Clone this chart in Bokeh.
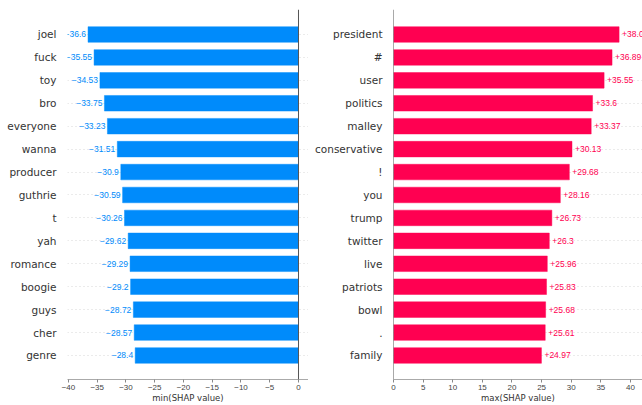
from bokeh.plotting import figure
from bokeh.layouts import row
from bokeh.models import Range1d, FixedTicker, Span, ColumnDataSource
from bokeh.core.properties import value
from bokeh.embed import file_html
from bokeh.resources import INLINE

# ---- data ----
neg_words = ["joel", "fuck", "toy", "bro", "everyone", "wanna", "producer", "guthrie",
             "t", "yah", "romance", "boogie", "guys", "cher", "genre"]
neg_values = [-36.6, -35.55, -34.53, -33.75, -33.23, -31.51, -30.9, -30.59,
              -30.26, -29.62, -29.29, -29.2, -28.72, -28.57, -28.4]
pos_words = ["president", "#", "user", "politics", "malley", "conservative", "!", "you",
             "trump", "twitter", "live", "patriots", "bowl", ".", "family"]
pos_values = [38.08, 36.89, 35.55, 33.6, 33.37, 30.13, 29.68, 28.16,
              26.73, 26.3, 25.96, 25.83, 25.68, 25.61, 24.97]
neg_ticks = [-40, -35, -30, -25, -20, -15, -10, -5, 0]
pos_ticks = [0, 5, 10, 15, 20, 25, 30, 35, 40]

BLUE = "#008bfb"
RED = "#ff0051"
LABEL_FONT = "DejaVu Sans"
VAL_FONT = "Liberation Sans"

H = 405
Y_RANGE = (-1.047, 15.09)


def make_fig(words, values, width, xr, border_left, border_right, ticks, xlabel, color, neg):
    n = len(words)
    pos = [n - 1 - i for i in range(n)]
    if neg:
        texts = ["\u2212" + f"{abs(v):g}" for v in values]
    else:
        texts = ["+" + f"{v:g}" for v in values]
    src = ColumnDataSource(dict(y=pos, v=values, zero=[0] * n, t=texts))

    p = figure(width=width, height=H, output_backend="svg", toolbar_location=None,
               x_range=Range1d(*xr), y_range=Range1d(*Y_RANGE),
               min_border_left=border_left, min_border_right=border_right,
               min_border_top=9, min_border_bottom=26)
    p.outline_line_color = None
    p.background_fill_color = "white"
    p.xgrid.grid_line_color = None
    p.ygrid.ticker = FixedTicker(ticks=pos)
    p.ygrid.grid_line_color = "#cccccc"
    p.ygrid.grid_line_dash = "1 3"
    p.ygrid.grid_line_width = 0.8

    p.hbar(y="y", left="v", right="zero", height=0.68, source=src,
           fill_color=color, line_color=color, line_alpha=0.45, line_width=1)

    if neg:
        p.text(x="v", y="y", text="t", source=src, x_offset=-2,
               text_align="right", text_baseline="middle",
               text_font=value(VAL_FONT), text_font_size="8.5px", text_color=color)
    else:
        p.text(x="v", y="y", text="t", source=src, x_offset=3,
               text_align="left", text_baseline="middle",
               text_font=value(VAL_FONT), text_font_size="8.5px", text_color=color)

    p.add_layout(Span(location=0, dimension="height", line_color="#555555", line_width=1))

    # y axis
    ya = p.yaxis[0]
    ya.ticker = FixedTicker(ticks=pos)
    ya.major_label_overrides = {pv: w for pv, w in zip(pos, words)}
    ya.axis_line_color = None
    ya.major_tick_line_color = None
    ya.minor_tick_line_color = None
    ya.major_label_standoff = 5
    ya.major_label_text_font = LABEL_FONT
    ya.major_label_text_font_size = "10.5px"
    ya.major_label_text_color = "#333333"

    # x axis
    xa = p.xaxis[0]
    xa.ticker = FixedTicker(ticks=ticks)
    xa.major_label_overrides = {t: (("\u2212" + str(abs(t))) if t < 0 else str(t)) for t in ticks}
    xa.axis_line_color = "#aaaaaa"
    xa.major_tick_line_color = "#888888"
    xa.major_tick_out = 3
    xa.major_tick_in = 0
    xa.minor_tick_line_color = None
    xa.major_label_standoff = 2
    xa.major_label_text_font = VAL_FONT
    xa.major_label_text_font_size = "8px"
    xa.major_label_text_color = "#444444"
    xa.axis_label = xlabel
    xa.axis_label_standoff = 0
    xa.axis_label_text_font = LABEL_FONT
    xa.axis_label_text_font_style = "normal"
    xa.axis_label_text_font_size = "8.5px"
    xa.axis_label_text_color = "#333333"
    return p


p1 = make_fig(neg_words, neg_values, 308, (-40.17, 1.74), 67, 0, neg_ticks,
              "min(SHAP value)", BLUE, True)
p2 = make_fig(pos_words, pos_values, 334, (0, 42.03), 85, 0, pos_ticks,
              "max(SHAP value)", RED, False)

layout = row(p1, p2)
open("out.html", "w").write(file_html(layout, INLINE))
